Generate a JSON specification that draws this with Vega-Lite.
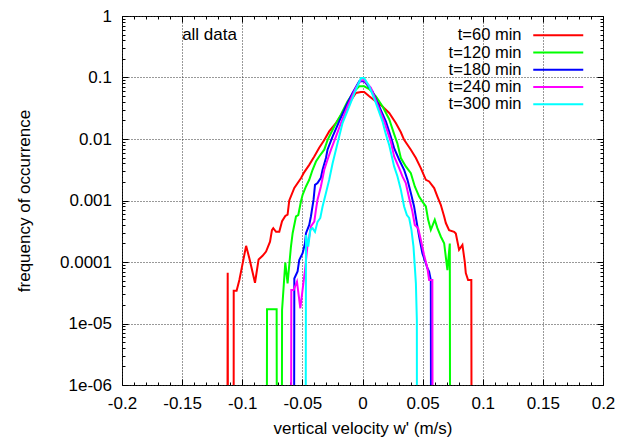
{
  "$schema": "https://vega.github.io/schema/vega-lite/v6.json",
  "width": 481,
  "height": 369,
  "autosize": {"type": "none"},
  "padding": {"left": 122, "top": 16, "right": 18, "bottom": 54},
  "background": "white",
  "config": {
    "font": "Liberation Sans",
    "view": {"stroke": "black", "strokeWidth": 1},
    "axis": {
      "labelFont": "Liberation Sans",
      "labelFontSize": 17,
      "labelColor": "black",
      "titleFont": "Liberation Sans",
      "titleFontSize": 17,
      "titleFontWeight": "normal",
      "titleColor": "black",
      "domain": false,
      "tickColor": "black",
      "tickWidth": 1,
      "labelFlush": false,
      "labelOverlap": false,
      "labelBound": false
    }
  },
  "data": {
    "values": [
      {"s": "t=60 min", "w": -0.114, "f": 1e-30},
      {"s": "t=60 min", "w": -0.1121, "f": 6.7e-5},
      {"s": "t=60 min", "w": -0.1102, "f": 1e-30},
      {"s": "t=60 min", "w": -0.1075, "f": 1e-30},
      {"s": "t=60 min", "w": -0.1071, "f": 3.4e-5},
      {"s": "t=60 min", "w": -0.1047, "f": 3.4e-5},
      {"s": "t=60 min", "w": -0.1024, "f": 5.1e-5},
      {"s": "t=60 min", "w": -0.1002, "f": 8.4e-5},
      {"s": "t=60 min", "w": -0.0968, "f": 1.83e-4},
      {"s": "t=60 min", "w": -0.0941, "f": 1.15e-4},
      {"s": "t=60 min", "w": -0.0894, "f": 4.6e-5},
      {"s": "t=60 min", "w": -0.0864, "f": 1.1e-4},
      {"s": "t=60 min", "w": -0.0831, "f": 1.26e-4},
      {"s": "t=60 min", "w": -0.0802, "f": 1.48e-4},
      {"s": "t=60 min", "w": -0.0769, "f": 2.14e-4},
      {"s": "t=60 min", "w": -0.0753, "f": 3.3e-4},
      {"s": "t=60 min", "w": -0.0742, "f": 3.55e-4},
      {"s": "t=60 min", "w": -0.0719, "f": 3.1e-4},
      {"s": "t=60 min", "w": -0.0692, "f": 3.1e-4},
      {"s": "t=60 min", "w": -0.0669, "f": 4.6e-4},
      {"s": "t=60 min", "w": -0.0642, "f": 5.6e-4},
      {"s": "t=60 min", "w": -0.0623, "f": 5.9e-4},
      {"s": "t=60 min", "w": -0.0609, "f": 1.0e-3},
      {"s": "t=60 min", "w": -0.0567, "f": 1.6e-3},
      {"s": "t=60 min", "w": -0.0512, "f": 2.3e-3},
      {"s": "t=60 min", "w": -0.0484, "f": 2.9e-3},
      {"s": "t=60 min", "w": -0.0443, "f": 3.8e-3},
      {"s": "t=60 min", "w": -0.0401, "f": 5.2e-3},
      {"s": "t=60 min", "w": -0.036, "f": 7.2e-3},
      {"s": "t=60 min", "w": -0.0318, "f": 9.6e-3},
      {"s": "t=60 min", "w": -0.0277, "f": 1.33e-2},
      {"s": "t=60 min", "w": -0.0221, "f": 1.82e-2},
      {"s": "t=60 min", "w": -0.0166, "f": 2.65e-2},
      {"s": "t=60 min", "w": -0.011, "f": 3.86e-2},
      {"s": "t=60 min", "w": -0.0055, "f": 5.6e-2},
      {"s": "t=60 min", "w": -0.0013, "f": 5.8e-2},
      {"s": "t=60 min", "w": 0.0014, "f": 5.8e-2},
      {"s": "t=60 min", "w": 0.0056, "f": 4.94e-2},
      {"s": "t=60 min", "w": 0.0111, "f": 4.09e-2},
      {"s": "t=60 min", "w": 0.0166, "f": 3.39e-2},
      {"s": "t=60 min", "w": 0.0222, "f": 2.65e-2},
      {"s": "t=60 min", "w": 0.0277, "f": 1.82e-2},
      {"s": "t=60 min", "w": 0.0318, "f": 1.3e-2},
      {"s": "t=60 min", "w": 0.0346, "f": 9.7e-3},
      {"s": "t=60 min", "w": 0.0402, "f": 6.7e-3},
      {"s": "t=60 min", "w": 0.0444, "f": 4.9e-3},
      {"s": "t=60 min", "w": 0.0485, "f": 3.37e-3},
      {"s": "t=60 min", "w": 0.0527, "f": 2.17e-3},
      {"s": "t=60 min", "w": 0.0554, "f": 2.04e-3},
      {"s": "t=60 min", "w": 0.0596, "f": 1.59e-3},
      {"s": "t=60 min", "w": 0.0623, "f": 1.16e-3},
      {"s": "t=60 min", "w": 0.0651, "f": 8.5e-4},
      {"s": "t=60 min", "w": 0.0679, "f": 5.5e-4},
      {"s": "t=60 min", "w": 0.0693, "f": 4.3e-4},
      {"s": "t=60 min", "w": 0.072, "f": 3.3e-4},
      {"s": "t=60 min", "w": 0.0762, "f": 3.1e-4},
      {"s": "t=60 min", "w": 0.0776, "f": 2.9e-4},
      {"s": "t=60 min", "w": 0.0803, "f": 1.58e-4},
      {"s": "t=60 min", "w": 0.0831, "f": 1.9e-4},
      {"s": "t=60 min", "w": 0.085, "f": 1.02e-4},
      {"s": "t=60 min", "w": 0.0859, "f": 6.6e-5},
      {"s": "t=60 min", "w": 0.0878, "f": 5.1e-5},
      {"s": "t=60 min", "w": 0.0905, "f": 5.1e-5},
      {"s": "t=60 min", "w": 0.0924, "f": 1e-30},

      {"s": "t=120 min", "w": -0.0813, "f": 1e-30},
      {"s": "t=120 min", "w": -0.0794, "f": 1.7e-5},
      {"s": "t=120 min", "w": -0.0754, "f": 1.7e-5},
      {"s": "t=120 min", "w": -0.0714, "f": 1.7e-5},
      {"s": "t=120 min", "w": -0.0695, "f": 1e-30},
      {"s": "t=120 min", "w": -0.0688, "f": 1e-30},
      {"s": "t=120 min", "w": -0.0669, "f": 1.66e-5},
      {"s": "t=120 min", "w": -0.0642, "f": 9.8e-5},
      {"s": "t=120 min", "w": -0.0623, "f": 4.5e-5},
      {"s": "t=120 min", "w": -0.0595, "f": 1.78e-4},
      {"s": "t=120 min", "w": -0.0581, "f": 2.94e-4},
      {"s": "t=120 min", "w": -0.0553, "f": 5.5e-4},
      {"s": "t=120 min", "w": -0.0534, "f": 5.8e-4},
      {"s": "t=120 min", "w": -0.0512, "f": 9.6e-4},
      {"s": "t=120 min", "w": -0.0498, "f": 1.24e-3},
      {"s": "t=120 min", "w": -0.047, "f": 1.69e-3},
      {"s": "t=120 min", "w": -0.0443, "f": 2.17e-3},
      {"s": "t=120 min", "w": -0.0415, "f": 3.16e-3},
      {"s": "t=120 min", "w": -0.0387, "f": 4.3e-3},
      {"s": "t=120 min", "w": -0.036, "f": 5.2e-3},
      {"s": "t=120 min", "w": -0.0318, "f": 6.7e-3},
      {"s": "t=120 min", "w": -0.029, "f": 9.7e-3},
      {"s": "t=120 min", "w": -0.0235, "f": 1.6e-2},
      {"s": "t=120 min", "w": -0.018, "f": 2.49e-2},
      {"s": "t=120 min", "w": -0.0125, "f": 4.09e-2},
      {"s": "t=120 min", "w": -0.0069, "f": 5.96e-2},
      {"s": "t=120 min", "w": -0.0027, "f": 7.2e-2},
      {"s": "t=120 min", "w": 0.0014, "f": 7.2e-2},
      {"s": "t=120 min", "w": 0.0056, "f": 6.5e-2},
      {"s": "t=120 min", "w": 0.0111, "f": 4.94e-2},
      {"s": "t=120 min", "w": 0.0166, "f": 3.4e-2},
      {"s": "t=120 min", "w": 0.0222, "f": 2.1e-2},
      {"s": "t=120 min", "w": 0.0263, "f": 1.2e-2},
      {"s": "t=120 min", "w": 0.029, "f": 8.5e-3},
      {"s": "t=120 min", "w": 0.0319, "f": 4.9e-3},
      {"s": "t=120 min", "w": 0.036, "f": 3.58e-3},
      {"s": "t=120 min", "w": 0.0402, "f": 2.79e-3},
      {"s": "t=120 min", "w": 0.0435, "f": 1.69e-3},
      {"s": "t=120 min", "w": 0.0471, "f": 1.16e-3},
      {"s": "t=120 min", "w": 0.0498, "f": 9.6e-4},
      {"s": "t=120 min", "w": 0.0527, "f": 8.0e-4},
      {"s": "t=120 min", "w": 0.0546, "f": 4.85e-4},
      {"s": "t=120 min", "w": 0.0568, "f": 3.33e-4},
      {"s": "t=120 min", "w": 0.0601, "f": 4.85e-4},
      {"s": "t=120 min", "w": 0.0623, "f": 3.55e-4},
      {"s": "t=120 min", "w": 0.0651, "f": 2.6e-4},
      {"s": "t=120 min", "w": 0.0679, "f": 2.02e-4},
      {"s": "t=120 min", "w": 0.0706, "f": 7.4e-5},
      {"s": "t=120 min", "w": 0.0726, "f": 2.0e-4},
      {"s": "t=120 min", "w": 0.0745, "f": 1e-30},

      {"s": "t=180 min", "w": -0.0586, "f": 1e-30},
      {"s": "t=180 min", "w": -0.0567, "f": 5.4e-5},
      {"s": "t=180 min", "w": -0.054, "f": 7.0e-5},
      {"s": "t=180 min", "w": -0.0526, "f": 1.08e-4},
      {"s": "t=180 min", "w": -0.0498, "f": 1.39e-4},
      {"s": "t=180 min", "w": -0.0478, "f": 2.02e-4},
      {"s": "t=180 min", "w": -0.047, "f": 2.94e-4},
      {"s": "t=180 min", "w": -0.0443, "f": 4.0e-4},
      {"s": "t=180 min", "w": -0.0429, "f": 5.5e-4},
      {"s": "t=180 min", "w": -0.0407, "f": 1.03e-3},
      {"s": "t=180 min", "w": -0.0395, "f": 1.8e-3},
      {"s": "t=180 min", "w": -0.0374, "f": 1.92e-3},
      {"s": "t=180 min", "w": -0.0346, "f": 2.34e-3},
      {"s": "t=180 min", "w": -0.0332, "f": 3.16e-3},
      {"s": "t=180 min", "w": -0.0304, "f": 4.9e-3},
      {"s": "t=180 min", "w": -0.0291, "f": 6.7e-3},
      {"s": "t=180 min", "w": -0.0249, "f": 1.09e-2},
      {"s": "t=180 min", "w": -0.0194, "f": 1.94e-2},
      {"s": "t=180 min", "w": -0.0138, "f": 3.4e-2},
      {"s": "t=180 min", "w": -0.0083, "f": 5.6e-2},
      {"s": "t=180 min", "w": -0.0027, "f": 8.7e-2},
      {"s": "t=180 min", "w": 0.0014, "f": 8.7e-2},
      {"s": "t=180 min", "w": 0.0083, "f": 5.96e-2},
      {"s": "t=180 min", "w": 0.0139, "f": 3.4e-2},
      {"s": "t=180 min", "w": 0.0194, "f": 1.94e-2},
      {"s": "t=180 min", "w": 0.0235, "f": 1.1e-2},
      {"s": "t=180 min", "w": 0.0263, "f": 7.1e-3},
      {"s": "t=180 min", "w": 0.0305, "f": 4.6e-3},
      {"s": "t=180 min", "w": 0.0346, "f": 3.16e-3},
      {"s": "t=180 min", "w": 0.0374, "f": 2.17e-3},
      {"s": "t=180 min", "w": 0.0402, "f": 1.32e-3},
      {"s": "t=180 min", "w": 0.0429, "f": 8.0e-4},
      {"s": "t=180 min", "w": 0.0452, "f": 4.3e-4},
      {"s": "t=180 min", "w": 0.0471, "f": 2.6e-4},
      {"s": "t=180 min", "w": 0.0498, "f": 1.39e-4},
      {"s": "t=180 min", "w": 0.0527, "f": 9.5e-5},
      {"s": "t=180 min", "w": 0.054, "f": 7.9e-5},
      {"s": "t=180 min", "w": 0.0554, "f": 7.0e-5},
      {"s": "t=180 min", "w": 0.0568, "f": 5.1e-5},
      {"s": "t=180 min", "w": 0.0587, "f": 1e-30},

      {"s": "t=240 min", "w": -0.0611, "f": 1e-30},
      {"s": "t=240 min", "w": -0.0592, "f": 3.5e-5},
      {"s": "t=240 min", "w": -0.0573, "f": 3.5e-5},
      {"s": "t=240 min", "w": -0.0545, "f": 4.8e-5},
      {"s": "t=240 min", "w": -0.0517, "f": 1.77e-5},
      {"s": "t=240 min", "w": -0.049, "f": 4.8e-5},
      {"s": "t=240 min", "w": -0.0478, "f": 7.4e-5},
      {"s": "t=240 min", "w": -0.0457, "f": 1.9e-4},
      {"s": "t=240 min", "w": -0.0443, "f": 2.6e-4},
      {"s": "t=240 min", "w": -0.0429, "f": 3.8e-4},
      {"s": "t=240 min", "w": -0.0401, "f": 4.55e-4},
      {"s": "t=240 min", "w": -0.0387, "f": 7.1e-4},
      {"s": "t=240 min", "w": -0.0374, "f": 1.03e-3},
      {"s": "t=240 min", "w": -0.0346, "f": 1.69e-3},
      {"s": "t=240 min", "w": -0.0318, "f": 3.16e-3},
      {"s": "t=240 min", "w": -0.0291, "f": 4.6e-3},
      {"s": "t=240 min", "w": -0.0262, "f": 6.7e-3},
      {"s": "t=240 min", "w": -0.022, "f": 1.1e-2},
      {"s": "t=240 min", "w": -0.0179, "f": 1.82e-2},
      {"s": "t=240 min", "w": -0.0125, "f": 3.4e-2},
      {"s": "t=240 min", "w": -0.0055, "f": 6.8e-2},
      {"s": "t=240 min", "w": -0.0013, "f": 9.0e-2},
      {"s": "t=240 min", "w": 0.0014, "f": 9.0e-2},
      {"s": "t=240 min", "w": 0.007, "f": 6.8e-2},
      {"s": "t=240 min", "w": 0.0125, "f": 3.6e-2},
      {"s": "t=240 min", "w": 0.018, "f": 1.94e-2},
      {"s": "t=240 min", "w": 0.0236, "f": 9.0e-3},
      {"s": "t=240 min", "w": 0.0263, "f": 5.2e-3},
      {"s": "t=240 min", "w": 0.0305, "f": 3.37e-3},
      {"s": "t=240 min", "w": 0.0332, "f": 2.46e-3},
      {"s": "t=240 min", "w": 0.036, "f": 1.92e-3},
      {"s": "t=240 min", "w": 0.0388, "f": 1.09e-3},
      {"s": "t=240 min", "w": 0.0415, "f": 6.6e-4},
      {"s": "t=240 min", "w": 0.0435, "f": 4.0e-4},
      {"s": "t=240 min", "w": 0.0463, "f": 3.55e-4},
      {"s": "t=240 min", "w": 0.0485, "f": 2.3e-4},
      {"s": "t=240 min", "w": 0.0512, "f": 1.3e-4},
      {"s": "t=240 min", "w": 0.054, "f": 7.9e-5},
      {"s": "t=240 min", "w": 0.0554, "f": 5.1e-5},
      {"s": "t=240 min", "w": 0.0581, "f": 5.1e-5},
      {"s": "t=240 min", "w": 0.06, "f": 1e-30},

      {"s": "t=300 min", "w": -0.0489, "f": 1e-30},
      {"s": "t=300 min", "w": -0.047, "f": 2.76e-4},
      {"s": "t=300 min", "w": -0.0451, "f": 1.78e-4},
      {"s": "t=300 min", "w": -0.0434, "f": 3.33e-4},
      {"s": "t=300 min", "w": -0.0415, "f": 3.55e-4},
      {"s": "t=300 min", "w": -0.0395, "f": 3.1e-4},
      {"s": "t=300 min", "w": -0.0374, "f": 4.5e-4},
      {"s": "t=300 min", "w": -0.0351, "f": 5.2e-4},
      {"s": "t=300 min", "w": -0.0332, "f": 8.0e-4},
      {"s": "t=300 min", "w": -0.0304, "f": 1.32e-3},
      {"s": "t=300 min", "w": -0.0277, "f": 2.17e-3},
      {"s": "t=300 min", "w": -0.0249, "f": 4.0e-3},
      {"s": "t=300 min", "w": -0.0221, "f": 6.7e-3},
      {"s": "t=300 min", "w": -0.0194, "f": 1.1e-2},
      {"s": "t=300 min", "w": -0.0166, "f": 1.82e-2},
      {"s": "t=300 min", "w": -0.011, "f": 3.4e-2},
      {"s": "t=300 min", "w": -0.0055, "f": 6.35e-2},
      {"s": "t=300 min", "w": -0.0013, "f": 9.8e-2},
      {"s": "t=300 min", "w": 0.0014, "f": 9.8e-2},
      {"s": "t=300 min", "w": 0.0056, "f": 7.2e-2},
      {"s": "t=300 min", "w": 0.0111, "f": 3.86e-2},
      {"s": "t=300 min", "w": 0.0166, "f": 1.94e-2},
      {"s": "t=300 min", "w": 0.0194, "f": 1.2e-2},
      {"s": "t=300 min", "w": 0.0222, "f": 8.0e-3},
      {"s": "t=300 min", "w": 0.0263, "f": 3.58e-3},
      {"s": "t=300 min", "w": 0.0291, "f": 2.46e-3},
      {"s": "t=300 min", "w": 0.0319, "f": 1.49e-3},
      {"s": "t=300 min", "w": 0.0346, "f": 8.0e-4},
      {"s": "t=300 min", "w": 0.0369, "f": 5.8e-4},
      {"s": "t=300 min", "w": 0.0388, "f": 5.2e-4},
      {"s": "t=300 min", "w": 0.0407, "f": 3.33e-4},
      {"s": "t=300 min", "w": 0.0424, "f": 1.78e-4},
      {"s": "t=300 min", "w": 0.0435, "f": 8.4e-5},
      {"s": "t=300 min", "w": 0.0444, "f": 4.5e-5},
      {"s": "t=300 min", "w": 0.0452, "f": 1.14e-5},
      {"s": "t=300 min", "w": 0.0458, "f": 1e-30}
    ]
  },
  "layer": [
    {
      "mark": {"type": "line", "clip": true, "strokeWidth": 2},
      "encoding": {
        "x": {
          "field": "w",
          "type": "quantitative",
          "scale": {"domain": [-0.2, 0.2], "nice": false, "zero": false},
          "axis": {
            "orient": "bottom",
            "title": "vertical velocity w' (m/s)",
            "values": [-0.2, -0.15, -0.1, -0.05, 0, 0.05, 0.1, 0.15, 0.2],
            "labelExpr": "(datum.value < 0 ? '-' : '') + format(abs(datum.value), '~g')",
            "grid": true,
            "gridColor": "#333333",
            "gridDash": [1, 2],
            "gridWidth": 1,
            "ticks": false,
            "tickSize": 0,
            "labelPadding": 10,
            "titlePadding": 9
          }
        },
        "y": {
          "field": "f",
          "type": "quantitative",
          "scale": {"type": "log", "domain": [1e-6, 1], "nice": false},
          "axis": {
            "orient": "left",
            "title": "frequency of occurrence",
            "values": [1e-6, 1e-5, 1e-4, 0.001, 0.01, 0.1, 1],
            "labelExpr": "round(log(datum.value)/LN10) == -5 ? '1e-05' : round(log(datum.value)/LN10) == -6 ? '1e-06' : format(datum.value, '~g')",
            "grid": true,
            "gridColor": "#333333",
            "gridDash": [1, 2],
            "gridWidth": 1,
            "ticks": false,
            "tickSize": 0,
            "labelPadding": 10.5,
            "titlePadding": 26
          }
        },
        "color": {
          "field": "s",
          "type": "nominal",
          "scale": {
            "domain": ["t=60 min", "t=120 min", "t=180 min", "t=240 min", "t=300 min"],
            "range": ["#ff0000", "#00ff00", "#0000ff", "#ff00ff", "#00ffff"]
          },
          "legend": {
            "title": null,
            "orient": "none",
            "legendX": 428,
            "legendY": 11,
            "padding": 0,
            "symbolType": "M-5,0H5",
            "symbolSize": 100,
            "symbolStrokeWidth": 2,
            "labelAlign": "right",
            "labelOffset": -45,
            "labelFont": "Liberation Sans",
            "labelFontSize": 16.5,
            "labelColor": "black",
            "labelLimit": 0,
            "rowPadding": 0.25
          }
        }
      }
    },
    {
      "data": {"values": [{"label": "all data"}]},
      "mark": {"type": "text", "align": "left", "baseline": "middle", "dy": 0.5, "font": "Liberation Sans", "fontSize": 17, "color": "black"},
      "encoding": {
        "x": {"datum": -0.15, "type": "quantitative", "axis": null},
        "y": {"datum": 0.5, "type": "quantitative", "axis": null},
        "text": {"field": "label"}
      }
    },
    {
      "mark": {"type": "line", "clip": true, "strokeOpacity": 0},
      "encoding": {
        "x": {
          "field": "w", "type": "quantitative",
          "axis": {"orient": "bottom", "offset": -6, "tickSize": 6, "title": null, "labels": false, "grid": false,
                   "values": [-0.2, -0.15, -0.1, -0.05, 0, 0.05, 0.1, 0.15, 0.2]}
        },
        "y": {
          "field": "f", "type": "quantitative",
          "axis": {"orient": "left", "offset": -6, "tickSize": 6, "title": null, "labels": false, "grid": false,
                   "values": [1e-6, 1e-5, 1e-4, 0.001, 0.01, 0.1, 1]}
        },
        "detail": {"field": "s"}
      }
    },
    {
      "mark": {"type": "line", "clip": true, "strokeOpacity": 0},
      "encoding": {
        "x": {
          "field": "w", "type": "quantitative",
          "axis": {"orient": "bottom", "offset": -3, "tickSize": 3, "title": null, "labels": false, "grid": false,
                   "values": [-0.19, -0.18, -0.17, -0.16, -0.14, -0.13, -0.12, -0.11, -0.09, -0.08, -0.07, -0.06, -0.04, -0.03, -0.02, -0.01, 0.01, 0.02, 0.03, 0.04, 0.06, 0.07, 0.08, 0.09, 0.11, 0.12, 0.13, 0.14, 0.16, 0.17, 0.18, 0.19]}
        },
        "y": {
          "field": "f", "type": "quantitative",
          "axis": {"orient": "left", "offset": -3, "tickSize": 3, "title": null, "labels": false, "grid": false,
                   "values": [2e-6, 3e-6, 4e-6, 5e-6, 6e-6, 7e-6, 8e-6, 9e-6, 2e-5, 3e-5, 4e-5, 5e-5, 6e-5, 7e-5, 8e-5, 9e-5, 2e-4, 3e-4, 4e-4, 5e-4, 6e-4, 7e-4, 8e-4, 9e-4, 0.002, 0.003, 0.004, 0.005, 0.006, 0.007, 0.008, 0.009, 0.02, 0.03, 0.04, 0.05, 0.06, 0.07, 0.08, 0.09, 0.2, 0.3, 0.4, 0.5, 0.6, 0.7, 0.8, 0.9]}
        },
        "detail": {"field": "s"}
      }
    },
    {
      "mark": {"type": "line", "clip": true, "strokeOpacity": 0},
      "encoding": {
        "x": {
          "field": "w", "type": "quantitative",
          "axis": {"orient": "top", "offset": -6, "tickSize": 6, "title": null, "labels": false, "grid": false,
                   "values": [-0.2, -0.15, -0.1, -0.05, 0, 0.05, 0.1, 0.15, 0.2]}
        },
        "y": {
          "field": "f", "type": "quantitative",
          "axis": {"orient": "right", "offset": -6, "tickSize": 6, "title": null, "labels": false, "grid": false,
                   "values": [1e-6, 1e-5, 1e-4, 0.001, 0.01, 0.1, 1]}
        },
        "detail": {"field": "s"}
      }
    },
    {
      "mark": {"type": "line", "clip": true, "strokeOpacity": 0},
      "encoding": {
        "x": {
          "field": "w", "type": "quantitative",
          "axis": {"orient": "top", "offset": -3, "tickSize": 3, "title": null, "labels": false, "grid": false,
                   "values": [-0.19, -0.18, -0.17, -0.16, -0.14, -0.13, -0.12, -0.11, -0.09, -0.08, -0.07, -0.06, -0.04, -0.03, -0.02, -0.01, 0.01, 0.02, 0.03, 0.04, 0.06, 0.07, 0.08, 0.09, 0.11, 0.12, 0.13, 0.14, 0.16, 0.17, 0.18, 0.19]}
        },
        "y": {
          "field": "f", "type": "quantitative",
          "axis": {"orient": "right", "offset": -3, "tickSize": 3, "title": null, "labels": false, "grid": false,
                   "values": [2e-6, 3e-6, 4e-6, 5e-6, 6e-6, 7e-6, 8e-6, 9e-6, 2e-5, 3e-5, 4e-5, 5e-5, 6e-5, 7e-5, 8e-5, 9e-5, 2e-4, 3e-4, 4e-4, 5e-4, 6e-4, 7e-4, 8e-4, 9e-4, 0.002, 0.003, 0.004, 0.005, 0.006, 0.007, 0.008, 0.009, 0.02, 0.03, 0.04, 0.05, 0.06, 0.07, 0.08, 0.09, 0.2, 0.3, 0.4, 0.5, 0.6, 0.7, 0.8, 0.9]}
        },
        "detail": {"field": "s"}
      }
    }
  ],
  "resolve": {"axis": {"x": "independent", "y": "independent"}}
}
